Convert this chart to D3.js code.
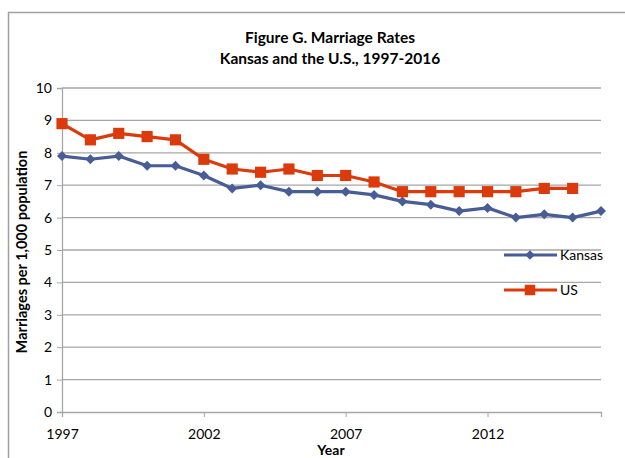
<!DOCTYPE html>
<html><head><meta charset="utf-8">
<script src="https://cdn.jsdelivr.net/npm/d3@7"></script>
<style>
html,body{margin:0;padding:0;background:#fff;}
svg{display:block;font-family:Lato,"Open Sans",sans-serif;}
</style></head>
<body>
<svg id="c" width="625" height="458"></svg>
<script>
const years = [1997,1998,1999,2000,2001,2002,2003,2004,2005,2006,2007,2008,2009,2010,2011,2012,2013,2014,2015,2016];
const kansas = [7.9,7.8,7.9,7.6,7.6,7.3,6.9,7.0,6.8,6.8,6.8,6.7,6.5,6.4,6.2,6.3,6.0,6.1,6.0,6.2];
const us = [8.9,8.4,8.6,8.5,8.4,7.8,7.5,7.4,7.5,7.3,7.3,7.1,6.8,6.8,6.8,6.8,6.8,6.9,6.9,null];
const yTicks = [0,1,2,3,4,5,6,7,8,9,10];
const xTickLabels = [1997,2002,2007,2012];
const titleLines = ["Figure G. Marriage Rates","Kansas and the U.S., 1997-2016"];

const svg = d3.select("#c");
const kColor = "#485C96", uColor = "#DA3A0C", gridColor = "#A6A6A6";

// outer border
svg.append("rect").attr("x",8.5).attr("y",12.5).attr("width",640).attr("height",460)
  .attr("fill","none").attr("stroke","#A0A0A0").attr("stroke-width",1.5);

const x = d3.scaleLinear().domain([1997,2016]).range([62,601]);
const y = d3.scaleLinear().domain([0,10]).range([412,88]);

// gridlines
svg.append("g").selectAll("line").data(yTicks.filter(d=>d>0)).join("line")
  .attr("x1",62).attr("x2",601).attr("y1",d=>y(d)).attr("y2",d=>y(d))
  .attr("stroke",gridColor).attr("stroke-width",1.3);

// y axis
const yAx = svg.append("g").attr("transform","translate(62,0)")
  .call(d3.axisLeft(y).tickValues(yTicks).tickSize(5).tickPadding(5));
yAx.select(".domain").attr("stroke","#A6A6A6").attr("stroke-width",1.3);
yAx.selectAll(".tick line").attr("stroke","#A6A6A6");
yAx.selectAll("text").attr("font-size",14).attr("fill","#000").attr("font-family","Lato,sans-serif");

// x axis
const xAx = svg.append("g").attr("transform","translate(0,412)")
  .call(d3.axisBottom(x).tickValues(xTickLabels).tickFormat(d3.format("d")).tickSize(5).tickPadding(12));
xAx.select(".domain").attr("stroke","#A6A6A6").attr("stroke-width",1.3);
xAx.selectAll(".tick line").attr("stroke","#A6A6A6");
xAx.selectAll("text").attr("font-size",14).attr("fill","#000").attr("font-family","Lato,sans-serif");

// titles
svg.append("g").selectAll("text").data(titleLines).join("text")
  .attr("x",330).attr("y",(d,i)=>43+i*21).attr("text-anchor","middle")
  .attr("font-weight","bold").attr("font-size",15.5).text(d=>d);

svg.append("text").attr("transform","translate(27,252) rotate(-90)")
  .attr("text-anchor","middle").attr("font-weight","bold").attr("font-size",14.5)
  .text("Marriages per 1,000 population");
svg.append("text").attr("x",331).attr("y",455).attr("text-anchor","middle")
  .attr("font-weight","bold").attr("font-size",14).text("Year");

const line = d3.line().defined(d=>d[1]!=null).x(d=>x(d[0])).y(d=>y(d[1]));
const kData = years.map((yr,i)=>[yr,kansas[i]]);
const uData = years.map((yr,i)=>[yr,us[i]]).filter(d=>d[1]!=null);

function drawSeries(data,color,diamond,size){
  svg.append("path").datum(data).attr("d",line).attr("fill","none")
    .attr("stroke",color).attr("stroke-width",3.2).attr("stroke-linejoin","round");
  svg.append("g").selectAll("path").data(data).join("path")
    .attr("transform",d=>`translate(${x(d[0])},${y(d[1])})`+(diamond?" rotate(45)":""))
    .attr("d",d3.symbol().type(d3.symbolSquare).size(size))
    .attr("fill",color);
}
drawSeries(kData,kColor,true,50);
drawSeries(uData,uColor,false,125);

// legend
const legend = [{name:"Kansas",color:kColor,shape:"diamond",y:255},{name:"US",color:uColor,shape:"square",y:290}];
const lg = svg.append("g").selectAll("g").data(legend).join("g");
lg.append("line").attr("x1",504).attr("x2",557).attr("y1",d=>d.y).attr("y2",d=>d.y)
  .attr("stroke",d=>d.color).attr("stroke-width",3.2);
lg.append("path").attr("transform",d=>`translate(530,${d.y})`+(d.shape==="diamond"?" rotate(45)":""))
  .attr("d",d=>d3.symbol().type(d3.symbolSquare).size(d.shape==="diamond"?45:110)())
  .attr("fill",d=>d.color);
lg.append("text").attr("x",560).attr("y",d=>d.y+5).attr("font-size",14).text(d=>d.name);
</script>
</body></html>
